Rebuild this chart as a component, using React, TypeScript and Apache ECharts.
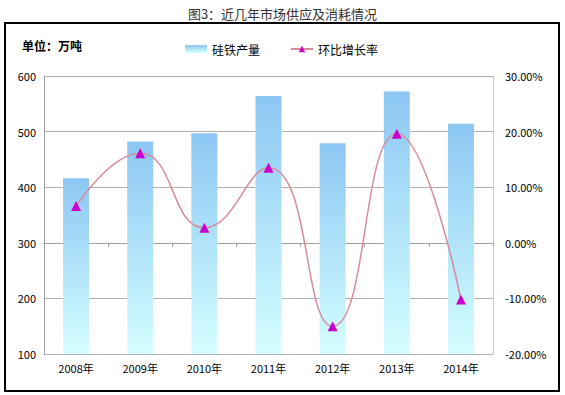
import React, { useEffect, useRef } from "react";
import * as echarts from "echarts";

const categories = ["2008年", "2009年", "2010年", "2011年", "2012年", "2013年", "2014年"];
const production = [416, 482, 497, 564, 479, 572, 514];
const growthRate = [6.6, 16.1, 2.7, 13.5, -15.0, 19.6, -10.2];

const FONT = "'Noto Sans CJK SC', 'DejaVu Sans', sans-serif";

export default function App() {
  const ref = useRef<HTMLDivElement>(null);
  useEffect(() => {
    if (!ref.current) return;
    const chart = echarts.init(ref.current, null, { renderer: "svg" });
    chart.setOption({
      animation: false,
      backgroundColor: "#ffffff",
      textStyle: { fontFamily: FONT },
      title: {
        text: "图3：近几年市场供应及消耗情况",
        left: "center",
        top: 2,
        textStyle: { fontSize: 13, fontWeight: "normal", color: "#333", fontFamily: FONT },
      },
      graphic: [
        {
          type: "rect",
          shape: { x: 5, y: 23, width: 554, height: 368 },
          style: { fill: "none", stroke: "#000", lineWidth: 2 },
          silent: true,
        },
        {
          type: "text",
          left: 22,
          top: 39,
          style: { text: "单位：万吨", fontSize: 12, fontWeight: "bold", fill: "#000", fontFamily: FONT },
        },
      ],
      legend: {
        left: 180,
        top: 38,
        itemWidth: 22,
        itemHeight: 8,
        itemGap: 30,
        textStyle: { fontSize: 12, color: "#000", fontFamily: FONT },
        data: [
          { name: "硅铁产量", icon: "rect" },
          { name: "环比增长率" },
        ],
      },
      grid: { left: 44, right: 72, top: 76, bottom: 41 },
      xAxis: {
        type: "category",
        data: categories,
        boundaryGap: true,
        axisLine: { lineStyle: { color: "#a0a0a0" } },
        axisTick: { show: true, length: 4, lineStyle: { color: "#a0a0a0" } },
        axisLabel: { color: "#000", fontSize: 11, margin: 8 },
      },
      yAxis: [
        {
          type: "value",
          min: 100,
          max: 600,
          interval: 100,
          axisLine: { show: true, lineStyle: { color: "#a0a0a0" } },
          axisTick: { show: false },
          splitLine: { lineStyle: { color: "#b0b0b0" } },
          axisLabel: { color: "#000", fontSize: 11, margin: 8 },
        },
        {
          type: "value",
          min: -20,
          max: 30,
          interval: 10,
          position: "right",
          axisLine: { show: true, lineStyle: { color: "#c8c8c8" } },
          axisTick: { show: false },
          splitLine: { show: false },
          axisLabel: {
            color: "#000",
            fontSize: 11,
            margin: 12,
            formatter: (v: number) => v.toFixed(2) + "%",
          },
        },
      ],
      series: [
        {
          name: "硅铁产量",
          type: "bar",
          data: production,
          barWidth: 26,
          itemStyle: {
            color: new echarts.graphic.LinearGradient(0, 0, 0, 1, [
              { offset: 0, color: "#8cc6f3" },
              { offset: 1, color: "#d4ffff" },
            ]),
          },
        },
        {
          name: "环比增长率",
          type: "line",
          yAxisIndex: 1,
          data: growthRate,
          smooth: 0.5,
          symbol: "triangle",
          symbolSize: 10,
          lineStyle: { color: "#d88c9a", width: 1.5 },
          itemStyle: { color: "#cc00cc" },
        },
      ],
    });
    return () => chart.dispose();
  }, []);
  return (
    <div
      ref={ref}
      style={{ position: "absolute", left: 0, top: 0, width: 565, height: 395 }}
    />
  );
}
